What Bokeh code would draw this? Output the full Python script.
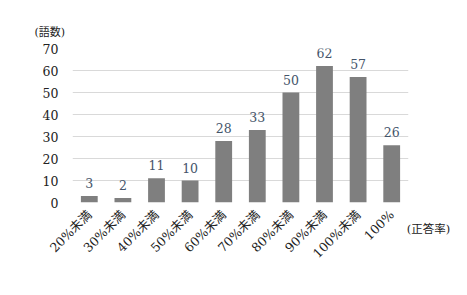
import math
from bokeh.plotting import figure
from bokeh.models import ColumnDataSource, Range1d, FixedTicker, Label, Title
from bokeh.core.properties import value
from bokeh.embed import file_html
from bokeh.resources import INLINE

categories = ["20%未満", "30%未満", "40%未満", "50%未満", "60%未満",
              "70%未満", "80%未満", "90%未満", "100%未満", "100%"]
counts = [3, 2, 11, 10, 28, 33, 50, 62, 57, 26]
y_ticks = [0, 10, 20, 30, 40, 50, 60, 70]
y_axis_title = "(語数)"
x_axis_title = "(正答率)"

FONT = "'DejaVu Serif', 'Noto Sans CJK JP', serif"

xs = list(range(len(categories)))
src = ColumnDataSource(dict(x=xs, y=counts, lab=[str(c) for c in counts]))

p = figure(width=467, height=295, output_backend="svg", toolbar_location=None,
           x_range=Range1d(-0.5, len(categories) - 0.5), y_range=Range1d(0, 70),
           min_border_left=72, min_border_right=59, min_border_top=48, min_border_bottom=93)
p.outline_line_color = None
p.background_fill_color = "white"
p.border_fill_color = "white"

p.vbar(x="x", top="y", width=0.5, source=src, fill_color="#7f7f7f", line_color=None)
p.text(x="x", y="y", text="lab", source=src, text_align="center", text_baseline="middle",
       y_offset=-13, text_font=value(FONT), text_font_size="12.5px", text_color="#44546A")

p.xgrid.grid_line_color = None
p.ygrid.grid_line_color = "#d9d9d9"
p.ygrid.grid_line_width = 1
p.yaxis.ticker = FixedTicker(ticks=y_ticks)
p.xaxis.ticker = FixedTicker(ticks=xs)
p.xaxis.major_label_overrides = {i: c for i, c in enumerate(categories)}
p.xaxis.major_label_orientation = math.pi / 4

for ax in (p.xaxis[0], p.yaxis[0]):
    ax.axis_line_color = None
    ax.major_tick_line_color = None
    ax.minor_tick_line_color = None
    ax.major_label_text_font = FONT
    ax.major_label_text_font_size = "12.5px"
    ax.major_label_text_color = "#222222"
p.yaxis.major_label_standoff = 8
p.xaxis.major_label_standoff = 4

p.add_layout(Title(text=y_axis_title, align="left", offset=-38, standoff=20,
                   text_font=FONT, text_font_size="11px", text_font_style="normal",
                   text_color="#222222"), "above")
p.add_layout(Label(x=356, y=55, x_units="screen", y_units="screen", text=x_axis_title,
                   text_align="center", text_baseline="middle",
                   text_font=FONT, text_font_size="11.5px", text_color="#222222"), "below")

open("out.html", "w").write(file_html(p, INLINE))
